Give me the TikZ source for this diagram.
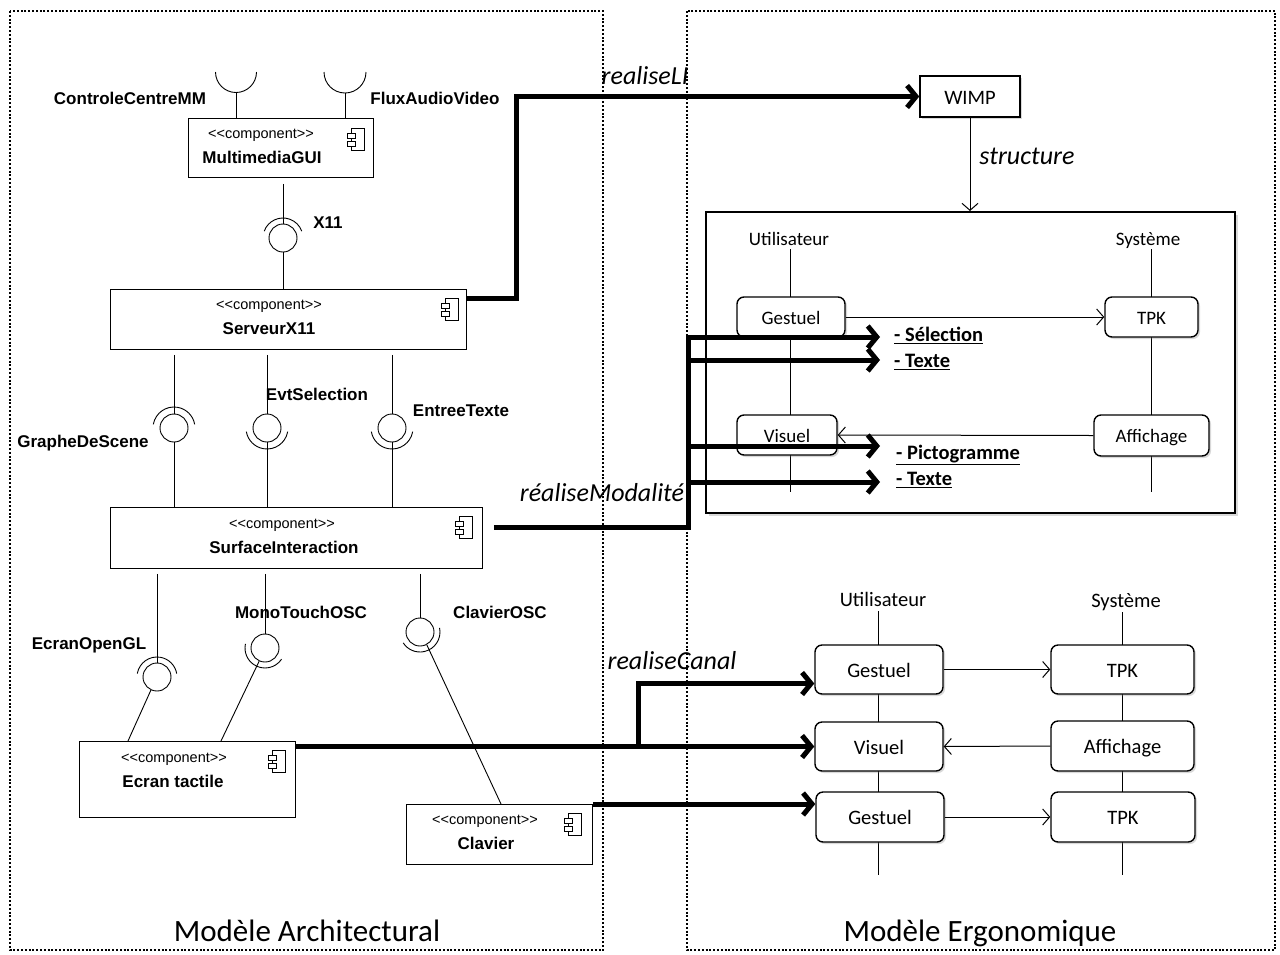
\documentclass[tikz,border=0pt]{standalone}
\usepackage{fontspec}
\setmainfont{Liberation Sans}
\newfontfamily\carl{Carlito}
\usetikzlibrary{arrows.meta,shadows}
\newcommand\stereo{<\kern0pt<component>\kern0pt>}
\begin{document}
\begin{tikzpicture}[x=1pt,y=-1pt,
 dframe/.style={line width=2pt,dash pattern=on 2pt off 1.8pt},
 comp/.style={draw,line width=0.9pt,fill=white,inner sep=0pt,anchor=north west},
 ster/.style={inner sep=0pt,text height=13.8pt,text depth=2.9pt,font=\fontsize{14.5}{16}\selectfont},
 bl/.style={inner sep=0pt,text height=16.2pt,text depth=3.4pt,font=\bfseries\fontsize{17}{19}\selectfont},
 ball/.style={draw,circle,line width=0.9pt,minimum size=28pt,inner sep=0pt},
 thinl/.style={line width=0.9pt},
 fat/.style={line width=5pt,-{Straight Barb[length=9pt,width=22pt]}},
 thinarr/.style={line width=1pt,-{Straight Barb[length=7pt,width=16pt]}},
 rbox/.style={draw,rounded corners=7pt,line width=1.4pt,fill=white,inner sep=0pt,
   drop shadow={shadow xshift=2pt,shadow yshift=-2pt,opacity=0.3}},
 rs/.style={rbox,text height=18pt,text depth=3.8pt,font=\carl\fontsize{19}{22}\selectfont},
 rl/.style={rbox,text height=19.5pt,text depth=4.1pt,font=\carl\fontsize{20.5}{24}\selectfont},
 labs/.style={inner sep=0pt,text height=18pt,text depth=3.8pt,font=\carl\fontsize{19}{22}\selectfont},
 labl/.style={inner sep=0pt,text height=19.5pt,text depth=4.1pt,font=\carl\fontsize{20.5}{24}\selectfont},
 itl/.style={inner sep=0pt,text height=24.7pt,text depth=5.2pt,font=\carl\itshape\fontsize{26}{30}\selectfont},
 modl/.style={inner sep=0pt,anchor=west,text height=19.5pt,text depth=4.1pt,font=\carl\bfseries\fontsize{20.5}{24}\selectfont},
 ttl/.style={inner sep=0pt,text height=29.5pt,text depth=6.2pt,font=\carl\fontsize{31}{36}\selectfont},
 compicon/.pic={
   \draw[line width=0.9pt,fill=white] (-6,-11) rectangle (7,11);
   \draw[line width=0.9pt,fill=white] (-10,-6) rectangle (-2,-1);
   \draw[line width=0.9pt,fill=white] (-10,2) rectangle (-2,7);
 }
]
\useasboundingbox (0,0) rectangle (1280,954);

% frames
\draw[dframe] (10,11) rectangle (603,950);
\draw[dframe] (687,11) rectangle (1275,950);

% ---------- Architectural model ----------
\node[comp,minimum width=185pt,minimum height=59pt] (mm) at (188,118) {};
\node[ster] (mmst) at (261,133) {\stereo};
\node[bl] (mmnm) at (262,157) {MultimediaGUI};
\pic at (357,139) {compicon};

\node[comp,minimum width=356pt,minimum height=60pt] (sx) at (110,289) {};
\node[ster] (sxst) at (269,304) {\stereo};
\node[bl] (sxnm) at (269,328) {ServeurX11};
\pic at (451,309) {compicon};

\node[comp,minimum width=372pt,minimum height=61pt] (si) at (110,507) {};
\node[ster] (sist) at (282,523) {\stereo};
\node[bl] (sinm) at (284,547) {SurfaceInteraction};
\pic at (465,527) {compicon};

\node[comp,minimum width=216pt,minimum height=76pt] (et) at (79,741) {};
\node[ster] (etst) at (174,757) {\stereo};
\node[bl] (etnm) at (173,781) {Ecran tactile};
\pic at (278,761) {compicon};

\node[comp,minimum width=186pt,minimum height=60pt] (cl) at (406,804) {};
\node[ster] (clst) at (485,819) {\stereo};
\node[bl] (clnm) at (486,843) {Clavier};
\pic at (574,824) {compicon};

% required interfaces on MultimediaGUI
\coordinate (ccm) at (236,93);
\coordinate (fav) at (345,93);
\draw[thinl] (mm.north -| ccm) -- (ccm);
\draw[thinl] (mm.north -| fav) -- (fav);
\draw[thinl] (236,72) ++(0:20.5) arc[start angle=0,end angle=180,radius=20.5];
\draw[thinl] (345,72) ++(0:21) arc[start angle=0,end angle=180,radius=21];
\node[bl] (ccml) at (130,98) {ControleCentreMM};
\node[bl] (favl) at (435,98) {FluxAudioVideo};

% X11
\node[ball] (x11) at (283,238) {};
\draw[thinl] (283,238) ++(200:20) arc[start angle=200,end angle=340,radius=20];
\draw[thinl,shorten <=6pt] (x11 |- mm.south) -- (x11.north);
\draw[thinl] (x11.south) -- (x11 |- sx.north);
\node[bl] (x11l) at (328,222) {X11};

% GrapheDeScene
\node[ball] (gds) at (174,428) {};
\draw[thinl] (174,428) ++(190:21) arc[start angle=190,end angle=350,radius=21];
\draw[thinl,shorten <=5pt] (gds |- sx.south) -- (gds.north);
\draw[thinl] (gds.south) -- (gds |- si.north);
\node[bl] (gdsl) at (83,441) {GrapheDeScene};

% EvtSelection
\node[ball] (evs) at (267,428) {};
\draw[thinl] (267,428) ++(10:21) arc[start angle=10,end angle=170,radius=21];
\draw[thinl,shorten <=5pt] (evs |- sx.south) -- (evs.north);
\draw[thinl] (evs.south) -- (evs |- si.north);
\node[bl] (evsl) at (317,394) {EvtSelection};

% EntreeTexte
\node[ball] (ets) at (392,428) {};
\draw[thinl] (392,428) ++(10:21) arc[start angle=10,end angle=170,radius=21];
\draw[thinl,shorten <=5pt] (ets |- sx.south) -- (ets.north);
\draw[thinl] (ets.south) -- (ets |- si.north);
\node[bl] (etsl) at (461,410) {EntreeTexte};

% EcranOpenGL
\node[ball] (eogl) at (157,677) {};
\draw[thinl] (157,677) ++(190:20) arc[start angle=190,end angle=350,radius=20];
\draw[thinl,shorten <=5pt] (eogl |- si.south) -- (eogl.north);
\draw[thinl] (eogl.245) -- ([xshift=49pt]et.north west);
\node[bl] (eogll) at (89,643) {EcranOpenGL};

% MonoTouchOSC
\node[ball] (mto) at (265,648) {};
\draw[thinl] (265,648) ++(34:20) arc[start angle=34,end angle=192,radius=20];
\draw[thinl,shorten <=5pt] (mto |- si.south) -- (mto.north);
\draw[thinl] (mto.246) -- ([xshift=142pt]et.north west);
\node[bl] (mtol) at (301,612) {MonoTouchOSC};

% ClavierOSC
\node[ball] (cosc) at (420,632) {};
\draw[thinl] (420,632) ++(-12:20) arc[start angle=-12,end angle=147,radius=20];
\draw[thinl,shorten <=5pt] (cosc |- si.south) -- (cosc.north);
\draw[thinl] (cosc.298) -- ([xshift=95pt]cl.north west);
\node[bl] (coscl) at (500,612) {ClavierOSC};

\node[ttl] (t1) at (307,930) {Modèle Architectural};

% ---------- Ergonomic model ----------
\node[draw,line width=1.4pt,fill=white,minimum width=100pt,minimum height=41pt,inner sep=0pt,
  text height=19.5pt,text depth=4.1pt,font=\carl\fontsize{20.5}{24}\selectfont,
  drop shadow={shadow xshift=2pt,shadow yshift=-2pt,opacity=0.3}] (wimp) at (970,96.5) {WIMP};

\node[draw,line width=2pt,fill=white,minimum width=529pt,minimum height=301pt,inner sep=0pt,anchor=north west,
  drop shadow={shadow xshift=3pt,shadow yshift=-3pt,opacity=0.3}] (bigbox) at (705,211) {};
\draw[thinarr] (wimp.south) -- (wimp.south |- bigbox.north);
\node[itl] (structl) at (1027,155) {structure};

% upper lifelines
\node[labs] (ut1) at (789,238) {Utilisateur};
\node[labs] (sy1) at (1148,238) {Système};
\coordinate (ul1e) at (790,492);
\coordinate (sl1e) at (1151,492);
\draw[thinl] (ul1e |- ut1.south) -- (ul1e);
\draw[thinl] (sl1e |- sy1.south) -- (sl1e);

\node[rs,minimum width=108pt,minimum height=40pt] (g1) at (791,317) {Gestuel};
\node[rs,minimum width=93pt,minimum height=40pt] (tp1) at (1151.5,317) {TPK};
\node[rs,minimum width=100pt,minimum height=40pt] (v1) at (787,435) {Visuel};
\node[rs,minimum width=115pt,minimum height=41pt] (af1) at (1151.5,435.5) {Affichage};
\draw[thinarr] (g1.east) -- (tp1.west);
\draw[thinarr] (af1.west) -- (v1.east);

% lower lifelines
\node[labl] (ut2) at (883,599) {Utilisateur};
\node[labl] (sy2) at (1126,600) {Système};
\coordinate (ul2e) at (878,875);
\coordinate (sl2e) at (1122,875);
\draw[thinl] (ul2e |- ut2.south) -- (ul2e);
\draw[thinl] (sl2e |- sy2.south) -- (sl2e);

\node[rl,minimum width=128pt,minimum height=49pt] (g2) at (879,669.5) {Gestuel};
\node[rl,minimum width=143pt,minimum height=49pt] (tp2) at (1122.5,669.5) {TPK};
\node[rl,minimum width=128pt,minimum height=49pt] (v2) at (879,746.5) {Visuel};
\node[rl,minimum width=143pt,minimum height=50pt] (af2) at (1122.5,746) {Affichage};
\node[rl,minimum width=128pt,minimum height=50pt] (g3) at (880,817) {Gestuel};
\node[rl,minimum width=144pt,minimum height=50pt] (tp3) at (1123,817) {TPK};
\draw[thinarr] (g2.east) -- (tp2.west);
\draw[thinarr] (af2.west) -- (v2.east);
\draw[thinarr] (g3.east) -- (tp3.west);

\node[ttl] (t2) at (980,930) {Modèle Ergonomique};

% ---------- thick realisation arrows ----------
% realiseLI
\draw[fat] ([yshift=21pt]sx.east) -- ++(50,0) |- (wimp.west);
\node[itl] (rli) at (645,75) {realiseLI};

% realiseModalite
\coordinate (m1) at (880,337);
\coordinate (m2) at (880,360);
\coordinate (m3) at (880,446);
\coordinate (m4) at (880,482);
\coordinate (b2) at (688,360);
\coordinate (b3) at (688,446);
\coordinate (b4) at (688,482);
\draw[fat] ([shift={(11pt,10.5pt)}]si.east) -- ++(195,0) |- (m1);
\draw[fat] (b2) -- (m2);
\draw[fat] (b3) -- (m3);
\draw[fat] (b4) -- (m4);
\node[itl] (rmod) at (602,492) {réaliseModalité};
\node[modl] (ms1) at (894,334) {\underline{- Sélection}};
\node[modl] (ms2) at (894,360) {\underline{- Texte}};
\node[modl] (ms3) at (896,452) {\underline{- Pictogramme}};
\node[modl] (ms4) at (896,478) {\underline{- Texte}};

% realiseCanal
\coordinate (cb) at (638,746.5);
\draw[fat] (et.east |- v2.west) -- (v2.west);
\draw[fat] (cb) |- ([yshift=-14pt]g2.west);
\draw[fat] (cl.north east) -- (cl.north east -| g3.west);
\node[itl] (rcan) at (672,660) {realiseCanal};

\end{tikzpicture}
\end{document}
